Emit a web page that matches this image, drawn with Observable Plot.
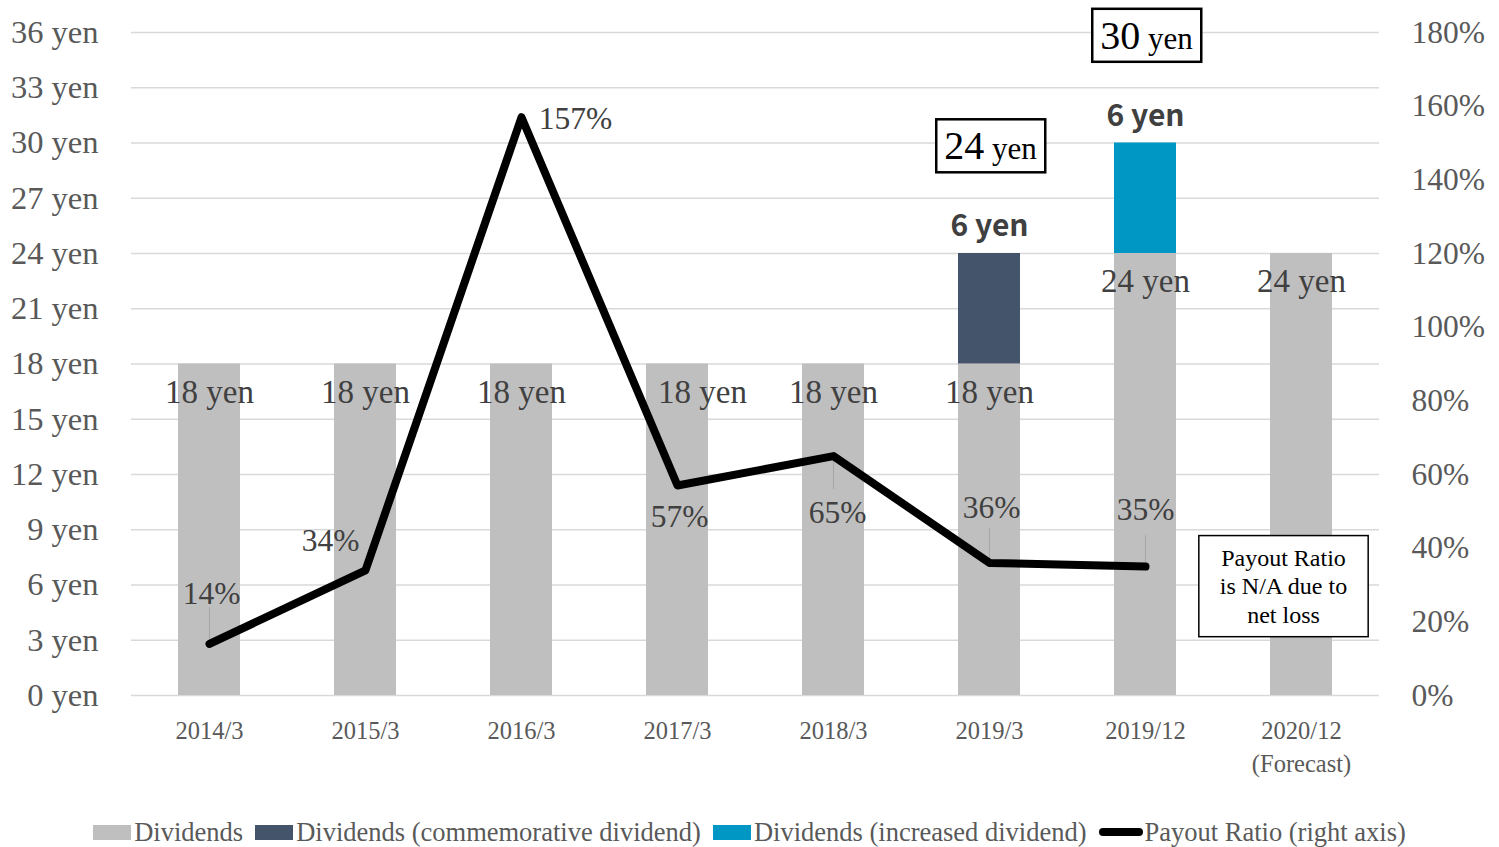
<!DOCTYPE html>
<html>
<head>
<meta charset="utf-8">
<script src="https://cdn.jsdelivr.net/npm/d3@7"></script>
<script src="https://cdn.jsdelivr.net/npm/@observablehq/plot@0.6"></script>
<style>
  body { margin: 0; background: #fff; overflow: hidden; }
  #chart { position: relative; width: 1499px; height: 847px; }
  .legend {
    position: absolute; left: 0; top: 819px; width: 1499px;
    display: flex; justify-content: center; align-items: center;
    font-family: "Liberation Serif", serif; font-size: 26.5px; color: #595959;
    white-space: nowrap; line-height: 1;
  }
  .legend .item { display: flex; align-items: center; margin: 0 6px; }
  .legend .sw { display: inline-block; width: 38px; height: 15px; margin-right: 3px; }
  .legend .ln { display: inline-block; width: 44px; height: 8px; border-radius: 4px; background: #000; margin-right: 2px; }
</style>
</head>
<body>
<div id="chart"></div>
<script>
// Fiscal periods and dividend per share (yen)
const periods = ["2014/3", "2015/3", "2016/3", "2017/3", "2018/3", "2019/3", "2019/12", "2020/12 (Forecast)"];
const dividends = [18, 18, 18, 18, 18, 18, 24, 24];
const commemorative = [0, 0, 0, 0, 0, 6, 0, 0];
const increased = [0, 0, 0, 0, 0, 0, 6, 0];
// Payout ratio (%), not available for the forecast year
const payoutRatio = [14, 34, 157, 57, 65, 36, 35, null];

const seriesNames = ["Dividends", "Dividends (commemorative dividend)", "Dividends (increased dividend)"];
const seriesColors = ["#bfbfbf", "#44546a", "#0097c4"];
const lineName = "Payout Ratio (right axis)";

const yenTicks = [0, 3, 6, 9, 12, 15, 18, 21, 24, 27, 30, 33, 36];
const pctTicks = [0, 20, 40, 60, 80, 100, 120, 140, 160, 180];
const note = "Payout Ratio\nis N/A due to\nnet loss";

// The ratio axis (0–180%) shares the yen axis (0–36): 5% per yen
const PCT_PER_YEN = 5;

// Label placement (pixels)
const baseLabelDx = [0, 0, 0, 25, 0, 0, 0, 0];
const pctLabelOffset = [[2, -50], [-35, -29], [54, 2], [2, 31], [4, 57], [2, -55], [0, -57]];
// Leader lines from a ratio point towards its label (in % units), null = none
const leaderLen = [10, null, null, null, -9, 9.5, 8.5];

// Font sizes that also identify the framed text groups
const TOTAL_SIZE = 40;
const NOTE_SIZE = 24;

// Tables built from the arrays
const series = [dividends, commemorative, increased];
const rows = [];
series.forEach((vals, s) => periods.forEach((p, i) => {
  if (vals[i] > 0) rows.push({period: p, series: seriesNames[s], value: vals[i]});
}));
const ratioRows = periods.map((p, i) => ({period: p, ratio: payoutRatio[i], i})).filter(d => d.ratio != null);
const extraRows = periods.map((p, i) => ({period: p, base: dividends[i], extra: commemorative[i] + increased[i]}))
  .filter(d => d.extra > 0);

const serif = "Liberation Serif";
const labelColor = "#404040";
const axisColor = "#595959";

const marks = [
  Plot.gridY(yenTicks, {stroke: "#d9d9d9", strokeOpacity: 1, strokeWidth: 1.5}),
  Plot.axisY(yenTicks, {anchor: "left", tickSize: 0, tickPadding: 33, fontSize: 32.5, color: axisColor,
    tickFormat: d => `${d} yen`}),
  Plot.axisY(pctTicks.map(p => p / PCT_PER_YEN), {anchor: "right", tickSize: 0, tickPadding: 32, fontSize: 31.5, color: axisColor,
    tickFormat: d => `${Math.round(d * PCT_PER_YEN)}%`}),
  Plot.axisX({tickSize: 0, tickPadding: 20, fontSize: 24.5, lineHeight: 1.35, color: axisColor,
    tickFormat: d => d.replace(" (", "\n(")}),
  Plot.barY(rows, {x: "period", y: "value", fill: "series"}),
  // base dividend labels inside the bars
  ...periods.map((p, i) => Plot.text([i], {
    x: j => periods[j], y: j => dividends[j], text: j => `${dividends[j]} yen`,
    dy: 28, dx: baseLabelDx[i], fontSize: 33, fill: labelColor, fontFamily: serif
  })),
  // additional dividend labels
  Plot.text(extraRows, {x: "period", y: d => d.base + d.extra, text: d => `${d.extra} yen`, dy: -27,
    fontSize: 30, fontWeight: "bold", fontFamily: "Noto Sans CJK JP", fill: labelColor}),
  // boxed annual totals
  Plot.text(extraRows, {x: "period", y: d => d.base + d.extra, text: d => `${d.base + d.extra} yen`, dy: -107, dx: 1,
    fontSize: TOTAL_SIZE, fill: "#000", fontFamily: serif}),
  // payout ratio leaders
  Plot.link(ratioRows.filter(d => leaderLen[d.i] != null), {
    x1: "period", x2: "period",
    y1: d => d.ratio / PCT_PER_YEN, y2: d => (d.ratio + leaderLen[d.i]) / PCT_PER_YEN,
    stroke: "#a6a6a6", strokeWidth: 1
  }),
  // payout ratio line
  Plot.line(ratioRows, {x: "period", y: d => d.ratio / PCT_PER_YEN, stroke: "#000", strokeWidth: 8,
    strokeLinejoin: "round", strokeLinecap: "round"}),
  ...ratioRows.map(r => Plot.text([r], {
    x: "period", y: d => d.ratio / PCT_PER_YEN, text: d => `${d.ratio}%`,
    dx: pctLabelOffset[r.i][0], dy: pctLabelOffset[r.i][1], fontSize: 31.5, fill: labelColor, fontFamily: serif
  })),
  // note for the forecast year
  Plot.text([{period: periods[periods.length - 1], pct: 30}], {
    x: "period", y: d => d.pct / PCT_PER_YEN, text: () => note, dx: -18, lineHeight: 1.19,
    fontSize: NOTE_SIZE, fill: "#000", fontFamily: serif
  })
];

const chart = Plot.plot({
  width: 1499,
  height: 800,
  marginTop: 32,
  marginBottom: 105,
  marginLeft: 131,
  marginRight: 120,
  style: {fontFamily: serif, background: "#fff", overflow: "visible"},
  x: {domain: periods, paddingInner: 0.6, paddingOuter: 0.3, label: null},
  y: {domain: [0, 36], label: null},
  color: {domain: seriesNames, range: seriesColors},
  marks
});

const host = document.getElementById("chart");
host.appendChild(chart);

const SVGNS = "http://www.w3.org/2000/svg";
function frame(t, px, py, width) {
  const bb = t.getBBox();
  const r = document.createElementNS(SVGNS, "rect");
  r.setAttribute("x", bb.x - px); r.setAttribute("y", bb.y - py);
  r.setAttribute("width", bb.width + 2 * px); r.setAttribute("height", bb.height + 2 * py);
  r.setAttribute("fill", "#fff"); r.setAttribute("stroke", "#000"); r.setAttribute("stroke-width", width);
  if (t.getAttribute("transform")) r.setAttribute("transform", t.getAttribute("transform"));
  t.parentNode.insertBefore(r, t);
}

// Boxed total labels: larger figure, smaller unit, with a frame
chart.querySelectorAll(`g[font-size="${TOTAL_SIZE}"] text`).forEach(t => {
  const [num, unit] = t.textContent.split(" ");
  t.textContent = "";
  const a = document.createElementNS(SVGNS, "tspan");
  a.textContent = num;
  const b = document.createElementNS(SVGNS, "tspan");
  b.textContent = " " + unit;
  b.setAttribute("font-size", 31);
  t.append(a, b);
  frame(t, 8, 4, 2.5);
});

// Frame around the forecast note
chart.querySelectorAll(`g[font-size="${NOTE_SIZE}"] text`).forEach(t => frame(t, 21, 9, 1.5));

// Legend
const legend = document.createElement("div");
legend.className = "legend";
seriesNames.forEach((name, i) => {
  const item = document.createElement("span");
  item.className = "item";
  const sw = document.createElement("span");
  sw.className = "sw";
  sw.style.background = seriesColors[i];
  item.append(sw, document.createTextNode(name));
  legend.append(item);
});
const lineItem = document.createElement("span");
lineItem.className = "item";
const ln = document.createElement("span");
ln.className = "ln";
lineItem.append(ln, document.createTextNode(lineName));
legend.append(lineItem);
host.append(legend);
</script>
</body>
</html>
